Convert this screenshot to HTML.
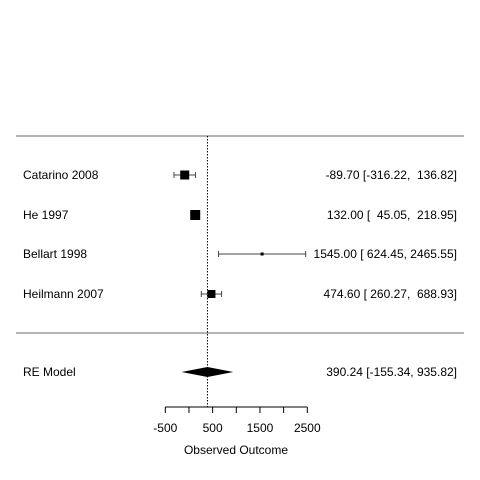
<!DOCTYPE html>
<html><head><meta charset="utf-8"><style>body{margin:0;background:#fff}svg{display:block;font-family:"Liberation Sans",sans-serif}text{white-space:pre}</style></head>
<body>
<svg width="480" height="480">
<line x1="16" y1="136" x2="464" y2="136" stroke="#888" stroke-width="1.3"/>
<line x1="16" y1="333" x2="464" y2="333" stroke="#888" stroke-width="1.3"/>
<g id="g"></g>
</svg>
<script>
const studies=["Catarino 2008","He 1997","Bellart 1998","Heilmann 2007"];
const est=[-89.70,132.00,1545.00,474.60];
const lo=[-316.22,45.05,624.45,260.27];
const hi=[136.82,218.95,2465.55,688.93];
const sizes=[9,10,3,8];
const reEst=390.24, reLo=-155.34, reHi=935.82;
const ticks=[-500,0,500,1000,1500,2000,2500];
const tickLabels=["-500","","500","","1500","","2500"];
const rowsY=[175,215,254,294];
const X=v=>165.3+(v+500)*(142/3000);
const g=document.getElementById('g');const NS="http://www.w3.org/2000/svg";
function mk(t,a,name){const e=document.createElementNS(NS,t);for(const k in a)e.setAttribute(k,a[k]);


g.appendChild(e);return e;}
function txt(s,x,y,anchor,name){const e=mk('text',{x:x,y:y,'font-size':12,'text-anchor':anchor},name);e.textContent=s;return e;}
mk('line',{x1:X(reEst),y1:136,x2:X(reEst),y2:407,stroke:'#000','stroke-dasharray':'1.5,1.5'},'reference-line');
const f=v=>v.toFixed(2);
studies.forEach((s,i)=>{const y=rowsY[i];
txt(s,23,y+4,'start','study-label');
mk('line',{x1:X(lo[i]),y1:y,x2:X(hi[i]),y2:y,stroke:'#444'},'ci-line');
mk('line',{x1:X(lo[i]),y1:y-3,x2:X(lo[i]),y2:y+3,stroke:'#444'},'ci-cap');
mk('line',{x1:X(hi[i]),y1:y-3,x2:X(hi[i]),y2:y+3,stroke:'#444'},'ci-cap');
const z=sizes[i];mk('rect',{x:X(est[i])-z/2,y:y-z/2,width:z,height:z,fill:'#000'},'effect-square');
txt(f(est[i])+' ['+f(lo[i]).padStart(7,' ')+', '+f(hi[i]).padStart(7,' ')+']',457,y+4,'end','effect-text');
});
txt('RE Model',23,376,'start','re-label');
mk('polygon',{points:`${X(reLo)},372 ${X(reEst)},367 ${X(reHi)},372 ${X(reEst)},377`,fill:'#000'},'re-diamond');
txt(f(reEst)+' ['+f(reLo)+', '+f(reHi)+']',457,376,'end','re-text');
mk('line',{x1:X(ticks[0]),y1:407,x2:X(ticks[ticks.length-1]),y2:407,stroke:'#000'},'x-axis');
ticks.forEach((t,i)=>{mk('line',{x1:X(t),y1:407,x2:X(t),y2:413,stroke:'#000'},'x-tick');
if(tickLabels[i])txt(tickLabels[i],X(t),432,'middle','x-tick-label');});
txt('Observed Outcome',236,454,'middle','x-axis-title');
</script>
</body></html>
